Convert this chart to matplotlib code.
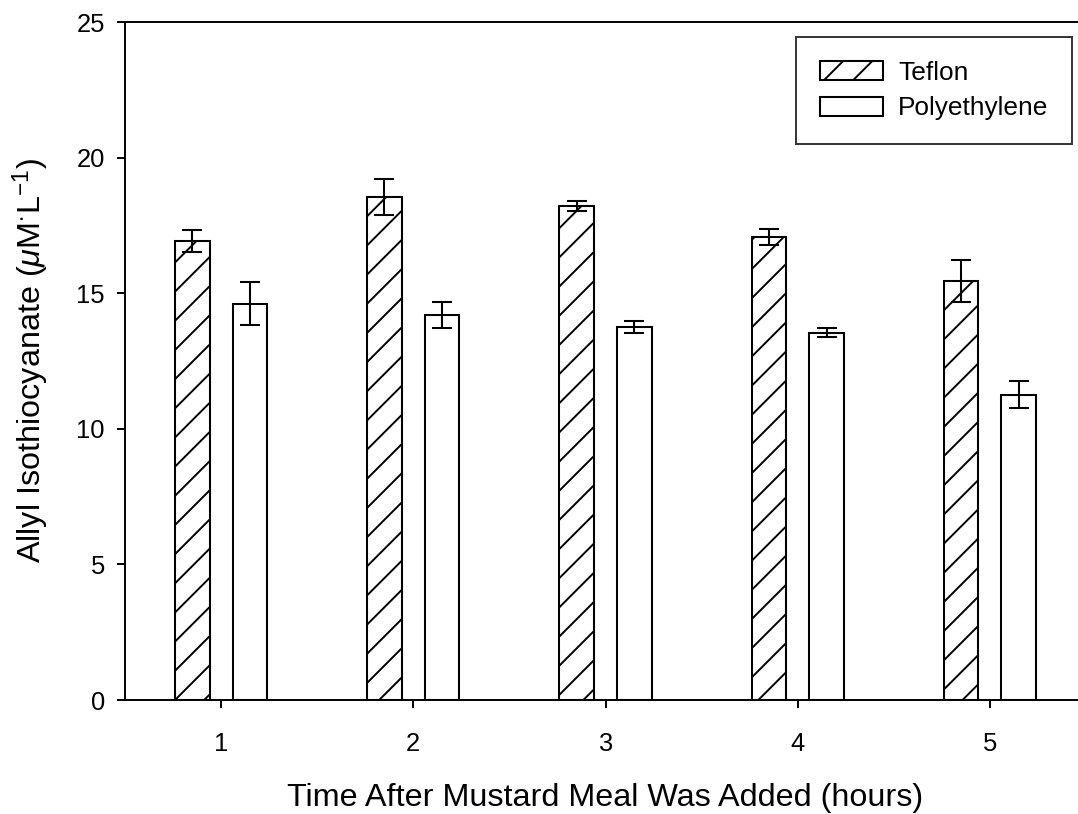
import matplotlib
matplotlib.use("Agg")
import matplotlib.pyplot as plt
import numpy as np

hours = [1, 2, 3, 4, 5]
teflon = [16.92, 18.54, 18.22, 17.06, 15.46]
teflon_err = [0.40, 0.67, 0.18, 0.30, 0.77]
poly = [14.62, 14.20, 13.74, 13.55, 11.25]
poly_err = [0.78, 0.49, 0.22, 0.18, 0.50]
yticks = [0, 5, 10, 15, 20, 25]

plt.rcParams['font.family'] = ['Liberation Sans', 'DejaVu Sans']
plt.rcParams['mathtext.fontset'] = 'custom'
plt.rcParams['mathtext.rm'] = 'Liberation Sans'
plt.rcParams['mathtext.it'] = 'Liberation Sans:italic'
plt.rcParams['hatch.linewidth'] = 0.8
plt.rcParams['hatch.color'] = 'black'

DPI = 175
fig = plt.figure(figsize=(1078 / DPI, 814 / DPI), dpi=DPI)
ax = fig.add_axes([125 / 1078, 1 - 700 / 814, (1086 - 125) / 1078, (700 - 22) / 814])

x = np.array(hours, dtype=float)
w = 0.18
off = 0.15
lw = 0.85
ax.bar(x - off, teflon, w, color='white', edgecolor='black', linewidth=lw,
       hatch='//', label='Teflon', zorder=2)
ax.bar(x + off, poly, w, color='white', edgecolor='black', linewidth=lw,
       label='Polyethylene', zorder=2)
ax.errorbar(x - off, teflon, yerr=teflon_err, fmt='none', ecolor='black',
            elinewidth=lw, capsize=4.3, capthick=lw, zorder=3)
ax.errorbar(x + off, poly, yerr=poly_err, fmt='none', ecolor='black',
            elinewidth=lw, capsize=4.3, capthick=lw, zorder=3)

ax.set_xlim(0.5, 5.5)
ax.set_ylim(0, 25)
ax.set_xticks(hours)
ax.set_yticks(yticks)
for s in ['left', 'bottom', 'top', 'right']:
    ax.spines[s].set_linewidth(0.8)
ax.tick_params(direction='out', length=3.3, width=0.8, labelsize=10.5, pad=5)
ax.tick_params(axis='x', pad=10)

ax.set_xlabel('Time After Mustard Meal Was Added (hours)', fontsize=13.3, labelpad=11)
ax.set_ylabel(r'Allyl Isothiocyanate ($\mathit{\mu}$M$^{\cdot}$L$^{-1}$)', fontsize=13.3, labelpad=10)

leg = ax.legend(loc='upper right', bbox_to_anchor=(1072 / 1078, 1 - 37 / 814),
                bbox_transform=fig.transFigure, borderaxespad=0,
                fontsize=10.8, handlelength=2.4, handleheight=0.75,
                frameon=True, fancybox=False, edgecolor='black',
                borderpad=0.9, labelspacing=0.45, handletextpad=0.57)
leg.get_frame().set_linewidth(0.8)

fig.savefig('out.png', dpi=DPI)
